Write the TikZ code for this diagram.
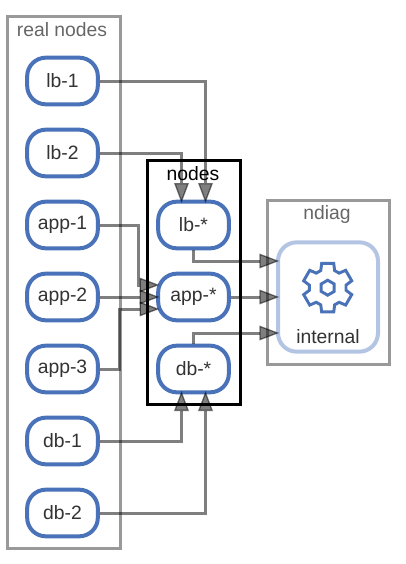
\documentclass[tikz,border=0pt]{standalone}
\usepackage{fontspec}
\setmainfont{Liberation Sans}
\usetikzlibrary{arrows.meta}
\definecolor{nodeblue}{HTML}{4A72B8}
\definecolor{paleblue}{HTML}{B4C5E3}
\definecolor{textgray}{HTML}{333333}
\definecolor{labelgray}{HTML}{666666}
\definecolor{framegray}{HTML}{999999}

\begin{document}
\begin{tikzpicture}[x=0.75pt, y=-0.75pt, font=\fontsize{14.5}{16}\selectfont, >={Triangle[length=15pt,width=11pt,open,fill=black,line width=1pt]},
    host/.style={draw=#1, line width=3pt, rounded corners=14pt, fill=white,
                 minimum width=53pt, minimum height=35pt, inner sep=0pt,
                 align=center, text=textgray},
    host/.default=nodeblue,
    frame/.style={draw=#1, line width=2.25pt},
    link/.style={->, black, opacity=0.5, line width=2.25pt, shorten >=-2.5pt},
    title/.style={text=#1, inner sep=0pt}]
  \useasboundingbox (0,0) rectangle (405,564);

  %% Groups
  \draw[frame=framegray] (7,16) rectangle (120,548);
  \draw[frame=black] (147,160) rectangle (240,404);
  \draw[frame=framegray] (267,200) rectangle (389,364);
  \node[title=labelgray] (realtitle) at (62,30) {real nodes};
  \node[title=black] (nodestitle) at (193,174) {nodes};
  \node[title=labelgray] (ndiagtitle) at (327,214) {ndiag};

  %% Real nodes
  \node[host] (lbone) at (62.5,81) {lb-1};
  \node[host] (lbtwo) at (62.5,153) {lb-2};
  \node[host] (appone) at (62.5,225) {app-1};
  \node[host] (apptwo) at (62.5,297) {app-2};
  \node[host] (appthree) at (62.5,369) {app-3};
  \node[host] (dbone) at (62.5,441) {db-1};
  \node[host] (dbtwo) at (62.5,513) {db-2};

  %% Grouped nodes
  \node[host] (lbs) at (193.5,225) {lb-*};
  \node[host] (apps) at (193.5,297) {app-*};
  \node[host] (dbs) at (193.5,369) {db-*};

  %% Internal
  \node[host=paleblue, minimum width=75pt, minimum height=82pt] (internal) at (328,297) {};
  \node[text=textgray, inner sep=0pt] (internaltitle) at (328,337) {internal};
  \begin{scope}[shift={(327.7,287.7)}, nodeblue, line width=2.2pt, line join=miter]
    \draw (90-14:25) \foreach \a in {90,150,210,270,330,390} {
        -- (\a-14:25) -- (\a+14:25) -- (\a+22:18.5) -- (\a+38:18.5)
      } -- cycle;
    \draw (30:7.5) -- (90:7.5) -- (150:7.5) -- (210:7.5) -- (270:7.5) -- (330:7.5) -- cycle;
  \end{scope}

  %% Arrows
  \draw[link] (lbone.east) -| ([xshift=9pt]lbs.north);
  \draw[link] (lbtwo.east) -| ([xshift=-9pt]lbs.north);
  \draw[link] (appone.east) -- ++(39,0) |- ([yshift=9pt]apps.west);
  \draw[link] (apptwo.east) -- (apps.west);
  \draw[link] (appthree.east) -- ++(20,0) |- ([yshift=-9pt]apps.west);
  \draw[link] (dbone.east) -| ([xshift=-9pt]dbs.south);
  \draw[link] (dbtwo.east) -| ([xshift=9pt]dbs.south);
  \draw[link] (lbs.south) |- ([yshift=27pt]internal.west);
  \draw[link] (apps.east) -- (internal.west);
  \draw[link] (dbs.north) |- ([yshift=-27pt]internal.west);
\end{tikzpicture}
\end{document}
